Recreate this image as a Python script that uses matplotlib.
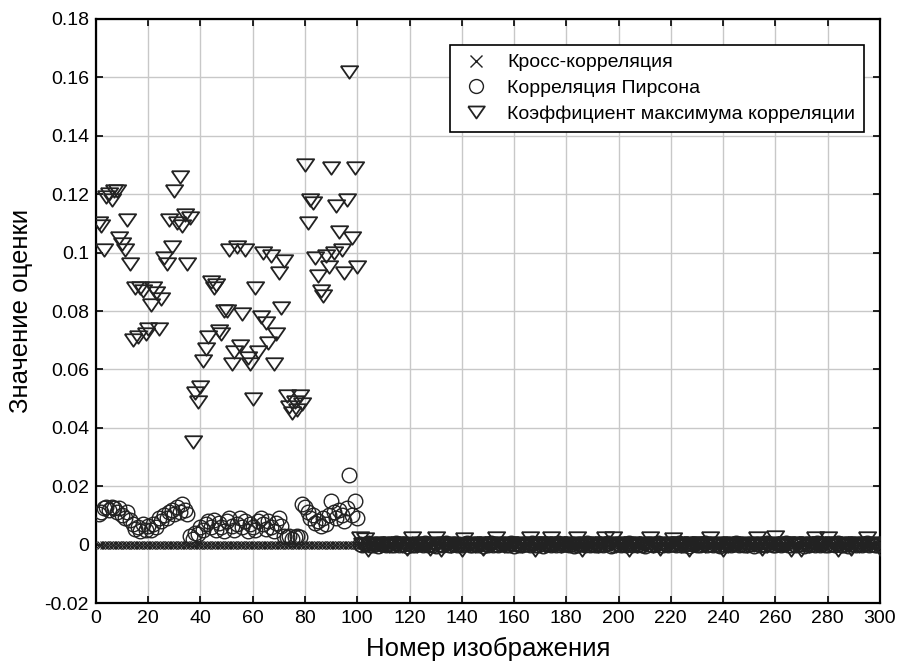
import numpy as np
import matplotlib
matplotlib.use("Agg")
import matplotlib.pyplot as plt

plt.rcParams['font.family'] = ['Liberation Sans', 'DejaVu Sans']

# ---- data ----
image_numbers = list(range(1, 301))

cross_values = [0.0] * 300

# Pearson correlation, images 1..100 (units of 1e-3)
pearson_first = [10.5, 11, 12.5, 13, 12, 13, 12.5, 11, 12.5, 10,
                 9, 11, 8.5, 7, 5.5, 6, 4.5, 7, 5, 6.5,
                 5, 7, 6, 9, 8, 10, 9, 11, 12, 10.5,
                 13, 11, 14, 12, 10.5, 3, 2, 4, 3.5, 6,
                 5, 7, 8, 6, 8.5, 5, 7.5, 6, 4.5, 8,
                 9, 6.5, 5, 7, 9, 6, 8, 4.5, 7, 6,
                 5, 8, 9, 7, 5.5, 8, 6, 4.5, 7.5, 9,
                 6.5, 3, 2.5, 3, 2, 2.5, 3, 2.5, 14, 13,
                 11, 9, 10, 7.5, 8, 6.5, 9, 7, 10, 15,
                 11, 9, 12, 10, 8, 12.5, 24, 10, 15, 9]
# Pearson correlation, images 101..300 (units of 1e-4)
pearson_rest = [2, -3, 1, 4, -2, 0, 3, -4, 2, 1, -1, 3, -3, 0, 4, -2, 1, 2, -4, 3,
                0, -2, 3, 1, -3, 4, -1, 2, 0, -4, 3, 1, -2, 4, -3, 0, 2, -1, 3, -2,
                1, 4, -3, 0, 2, -2, 3, -4, 1, 0, 4, -1, 2, -3, 1, 3, -2, 0, 4, -4,
                2, 0, -3, 3, 1, -2, 4, -1, 0, 2, -4, 3, 1, -3, 2, 0, 4, -2, 1, 3,
                -1, 2, -4, 0, 3, 1, -2, 4, -3, 2, 0, -1, 3, -2, 1, 4, -4, 0, 2, 3,
                -2, 1, 0, 4, -3, 2, -1, 3, 0, -4, 2, 1, -2, 3, 4, -1, 0, 2, -3, 1,
                3, -2, 4, 0, -1, 2, -4, 3, 1, 0, -3, 2, 4, -2, 1, 0, 3, -1, -4, 2,
                0, 3, -2, 1, 4, -3, 2, 0, -1, 3, 1, -4, 2, 0, 3, -2, 4, 1, -3, 0,
                2, -1, 3, 4, -2, 0, 1, -3, 2, 3, -4, 1, 0, 2, -2, 4, -1, 3, 0, -3,
                1, 2, -2, 4, 0, -1, 3, -4, 2, 1, 0, 3, -3, 2, 4, -2, 1, 0, -1, 3]

# Maximum correlation coefficient, images 1..100 (units of 1e-3)
maxcorr_first = [110, 109, 101, 119, 120, 118, 121, 121, 105, 103,
                 101, 111, 96, 70, 88, 71, 88, 87, 72, 74,
                 82, 88, 86, 74, 84, 98, 96, 111, 102, 121,
                 110, 126, 109, 113, 96, 112, 35, 52, 49, 54,
                 63, 67, 71, 90, 88, 89, 73, 72, 80, 80,
                 101, 62, 66, 102, 68, 79, 101, 64, 62, 50,
                 88, 66, 78, 100, 76, 69, 99, 62, 72, 93,
                 81, 97, 51, 47, 45, 49, 46, 51, 48, 130,
                 110, 118, 117, 98, 92, 87, 85, 99, 95, 129,
                 100, 116, 107, 101, 93, 118, 162, 105, 129, 95]
# Maximum correlation coefficient, images 101..300 (units of 1e-4)
maxcorr_rest = [22, 3, 20, -17, 2, -3, 4, 1, -5, 3, 0, -4, 5, 2, -2, 4, -6, 1, -16, 3,
                22, 2, -4, 5, 1, -3, 3, -15, 0, 21, 4, -17, 2, -2, 5, -5, 3, 1, -4, -18,
                20, 3, -2, 4, -5, 1, 2, -16, 5, -3, 0, 4, 22, -2, 3, -4, 1, 5, -3, 2,
                -1, 4, -5, 2, 3, 21, 0, -19, 4, -2, 5, -4, 1, 23, -3, 2, 4, -5, 3, 0,
                -2, 5, 1, 22, -4, -17, 3, 2, -3, 4, 0, -5, 2, 5, 24, -1, 3, 22, -4, 1,
                4, -3, 2, -20, 5, 0, -4, 3, 1, -2, 4, 21, -5, 2, 3, -16, 0, 5, -3, 2,
                20, -1, 4, -4, 2, 3, -17, 5, 0, -3, 4, 1, -5, 2, 23, 3, -2, 4, 1, -18,
                3, -4, 5, 0, 2, -3, 4, 1, -5, 3, 2, -2, 22, 4, -16, 1, -4, 5, 2, 25,
                0, 3, -3, 4, 1, -19, 5, -2, 2, -17, 3, 4, -4, 1, 21, -3, 5, 0, 2, 22,
                -2, 4, 1, -18, 3, 5, -3, 2, -16, 0, 4, -4, 3, 1, 23, -2, 5, 2, -3, -15]

labels = ['Кросс-корреляция', 'Корреляция Пирсона', 'Коэффициент максимума корреляции']
x_ticks = list(range(0, 301, 20))
y_ticks = [-0.02, 0, 0.02, 0.04, 0.06, 0.08, 0.1, 0.12, 0.14, 0.16, 0.18]
y_ticklabels = ['-0.02', '0', '0.02', '0.04', '0.06', '0.08', '0.1', '0.12', '0.14', '0.16', '0.18']

pearson = np.array(pearson_first) * 1e-3
pearson = np.concatenate([pearson, np.array(pearson_rest) * 1e-4])
maxcorr = np.array(maxcorr_first) * 1e-3
maxcorr = np.concatenate([maxcorr, np.array(maxcorr_rest) * 1e-4])
x = np.array(image_numbers)

# wider-than-tall downward triangle, like the original
tri = [(-1, 0.72), (1, 0.72), (0, -0.72), (-1, 0.72)]

# ---- figure ----
fig = plt.figure(figsize=(9.01, 6.62), dpi=100)
ax = fig.add_axes([0.1065, 0.0891, 0.870, 0.8822])

edge = '#222222'
ax.plot(x, cross_values, linestyle='none', marker='x', ms=5.5, mew=0.9,
        color=edge, label=labels[0], zorder=3)
ax.plot(x, pearson, linestyle='none', marker='o', ms=10.5, mew=1.0,
        mfc='none', mec=edge, label=labels[1], zorder=3)
ax.plot(x, maxcorr, linestyle='none', marker=tri, ms=12.5, mew=1.3,
        mfc='none', mec=edge, label=labels[2], zorder=3)

ax.set_xlim(0, 300)
ax.set_ylim(-0.02, 0.18)
ax.set_xticks(x_ticks)
ax.set_yticks(y_ticks)
ax.set_yticklabels(y_ticklabels)
ax.tick_params(direction='in', length=5, width=1.2, labelsize=14,
               top=True, right=True, colors='black', pad=5)
ax.grid(True, color='#c8c8c8', linewidth=1.0)
ax.set_axisbelow(True)
for s in ax.spines.values():
    s.set_linewidth(1.6)
    s.set_color('black')

ax.set_xlabel('Номер изображения', fontsize=18.5, labelpad=7)
ax.set_ylabel('Значение оценки', fontsize=18.5, labelpad=8)

leg = ax.legend(loc='upper right', bbox_to_anchor=(0.9796, 0.9555), fontsize=14,
                frameon=True, fancybox=False, edgecolor='black', framealpha=1,
                handletextpad=0.7, borderpad=0.45, labelspacing=0.42,
                handlelength=1.8, borderaxespad=0, markerscale=1.0)
leg.get_frame().set_linewidth(1.2)
handles = leg.legend_handles
handles[0].set_markersize(9)
handles[0].set_markeredgewidth(1.0)
handles[1].set_markersize(10)
handles[2].set_markersize(12)

fig.savefig('out.png', dpi=100)
